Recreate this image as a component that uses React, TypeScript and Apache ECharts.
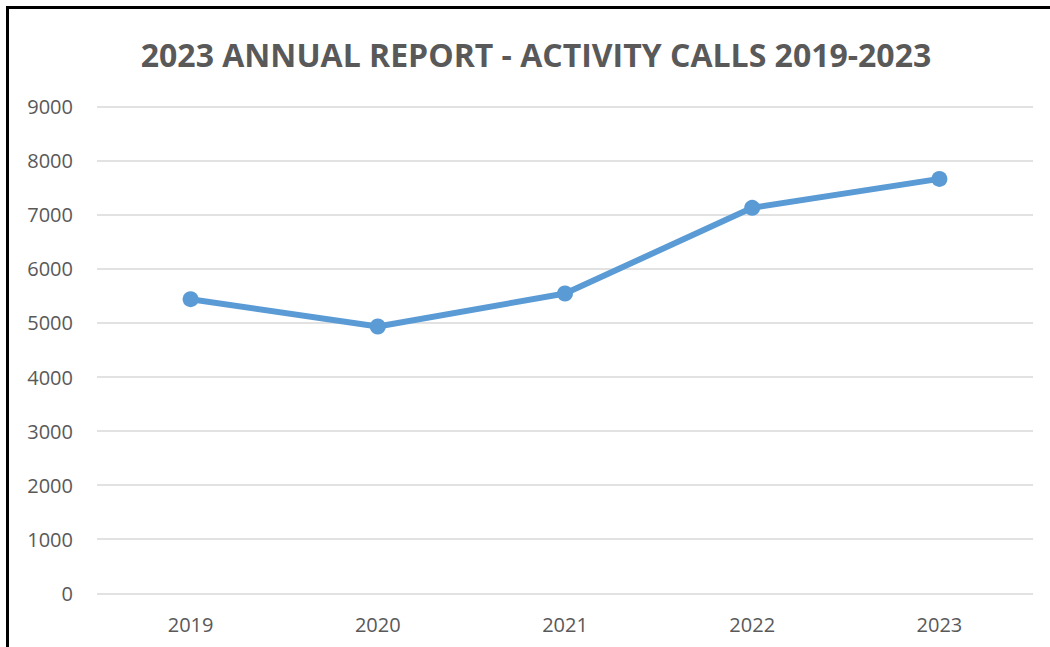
import React, { useEffect, useRef } from "react";
import * as echarts from "echarts";

const titleText = "2023 ANNUAL REPORT - ACTIVITY CALLS 2019-2023";
const years = ["2019", "2020", "2021", "2022", "2023"];
const calls = [5440, 4935, 5545, 7130, 7665];
const yMin = 0;
const yMax = 9000;
const yStep = 1000;

export default function App() {
  const ref = useRef<HTMLDivElement>(null);
  useEffect(() => {
    if (!ref.current) return;
    const chart = echarts.init(ref.current, null, { renderer: "svg" });
    chart.setOption({
      animation: false,
      backgroundColor: "#ffffff",
      title: {
        text: titleText,
        left: 531,
        textAlign: "center",
        top: 33,
        textStyle: {
          fontFamily: "Open Sans",
          fontWeight: "bold",
          fontSize: 32,
          color: "#595959",
        },
      },
      grid: { left: 97, right: 17, top: 106.7, bottom: 53.7 },
      xAxis: {
        type: "category",
        data: years,
        boundaryGap: true,
        axisLine: { show: false },
        axisTick: { show: false },
        axisLabel: {
          margin: 21,
          fontFamily: "Open Sans",
          fontSize: 20,
          color: "#595959",
        },
      },
      yAxis: {
        type: "value",
        min: yMin,
        max: yMax,
        interval: yStep,
        axisLine: { show: false },
        axisTick: { show: false },
        axisLabel: {
          margin: 24,
          fontFamily: "Open Sans",
          fontSize: 20,
          color: "#595959",
          formatter: (v: number) => String(v),
        },
        splitLine: { lineStyle: { color: "#d9d9d9", width: 1.5 } },
      },
      series: [
        {
          type: "line",
          data: calls,
          symbol: "circle",
          symbolSize: 16,
          lineStyle: { color: "#5B9BD5", width: 6 },
          itemStyle: { color: "#5B9BD5" },
        },
      ],
    });
    return () => chart.dispose();
  }, []);
  return (
    <div
      style={{
        position: "fixed",
        left: 0,
        top: 0,
        width: 1050,
        height: 647,
        background: "#fff",
      }}
    >
      <div ref={ref} style={{ position: "absolute", left: 0, top: 0, width: 1050, height: 647 }} />
      <div
        style={{
          position: "absolute",
          left: 6,
          top: 6,
          width: 1044,
          height: 641,
          borderLeft: "3px solid #000",
          borderTop: "3px solid #000",
          boxSizing: "border-box",
          pointerEvents: "none",
        }}
      />
    </div>
  );
}
